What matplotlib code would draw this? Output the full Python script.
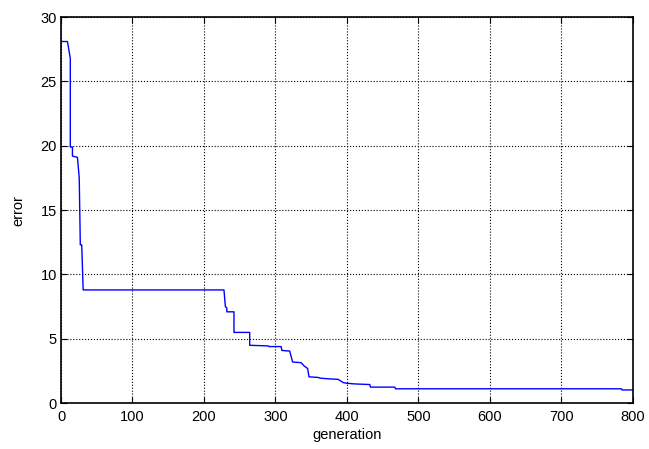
import numpy as np
import matplotlib.pyplot as plt

# best error per generation (vertices of the trace)
generation = [0, 9, 13, 13, 16, 16, 23, 25.5, 27, 29, 31, 228, 230, 232, 232,
              242, 242, 264, 264, 290, 291, 308, 309, 320, 324, 336, 340, 345,
              347, 360, 362, 373, 388, 392, 395, 400, 410, 432, 433, 467, 468,
              784, 785, 800]
error = [28.1, 28.1, 26.8, 19.9, 19.9, 19.2, 19.1, 17.5, 12.3, 12.3, 8.8, 8.8,
         7.5, 7.4, 7.1, 7.1, 5.5, 5.5, 4.5, 4.45, 4.4, 4.4, 4.1, 4.05, 3.2,
         3.15, 2.9, 2.7, 2.05, 2.0, 1.95, 1.9, 1.85, 1.7, 1.6, 1.55, 1.5, 1.45,
         1.25, 1.25, 1.12, 1.12, 1.03, 1.03]

xticks = [0, 100, 200, 300, 400, 500, 600, 700, 800]
yticks = [0, 5, 10, 15, 20, 25, 30]

plt.rcParams['font.family'] = ['Liberation Sans', 'DejaVu Sans']
plt.rcParams['font.size'] = 10.5

fig = plt.figure(figsize=(6.49, 4.49), dpi=100)
ax = fig.add_axes([0.094, 0.102, 0.881, 0.860])

ax.plot(generation, error, color='#0000ff', linewidth=1.0)

ax.set_xlim(0, 800)
ax.set_ylim(0, 30)
ax.set_xticks(xticks)
ax.set_yticks(yticks)
ax.grid(True, color='black', linestyle=':', linewidth=0.8)
ax.tick_params(direction='in', top=True, right=True, length=4, width=0.8, pad=3)
ax.tick_params(axis='x', pad=5)
for s in ax.spines.values():
    s.set_linewidth(1.2)

ax.set_xlabel('generation', labelpad=3)
ax.set_ylabel('error', labelpad=11)

plt.savefig('out.png', dpi=100)
